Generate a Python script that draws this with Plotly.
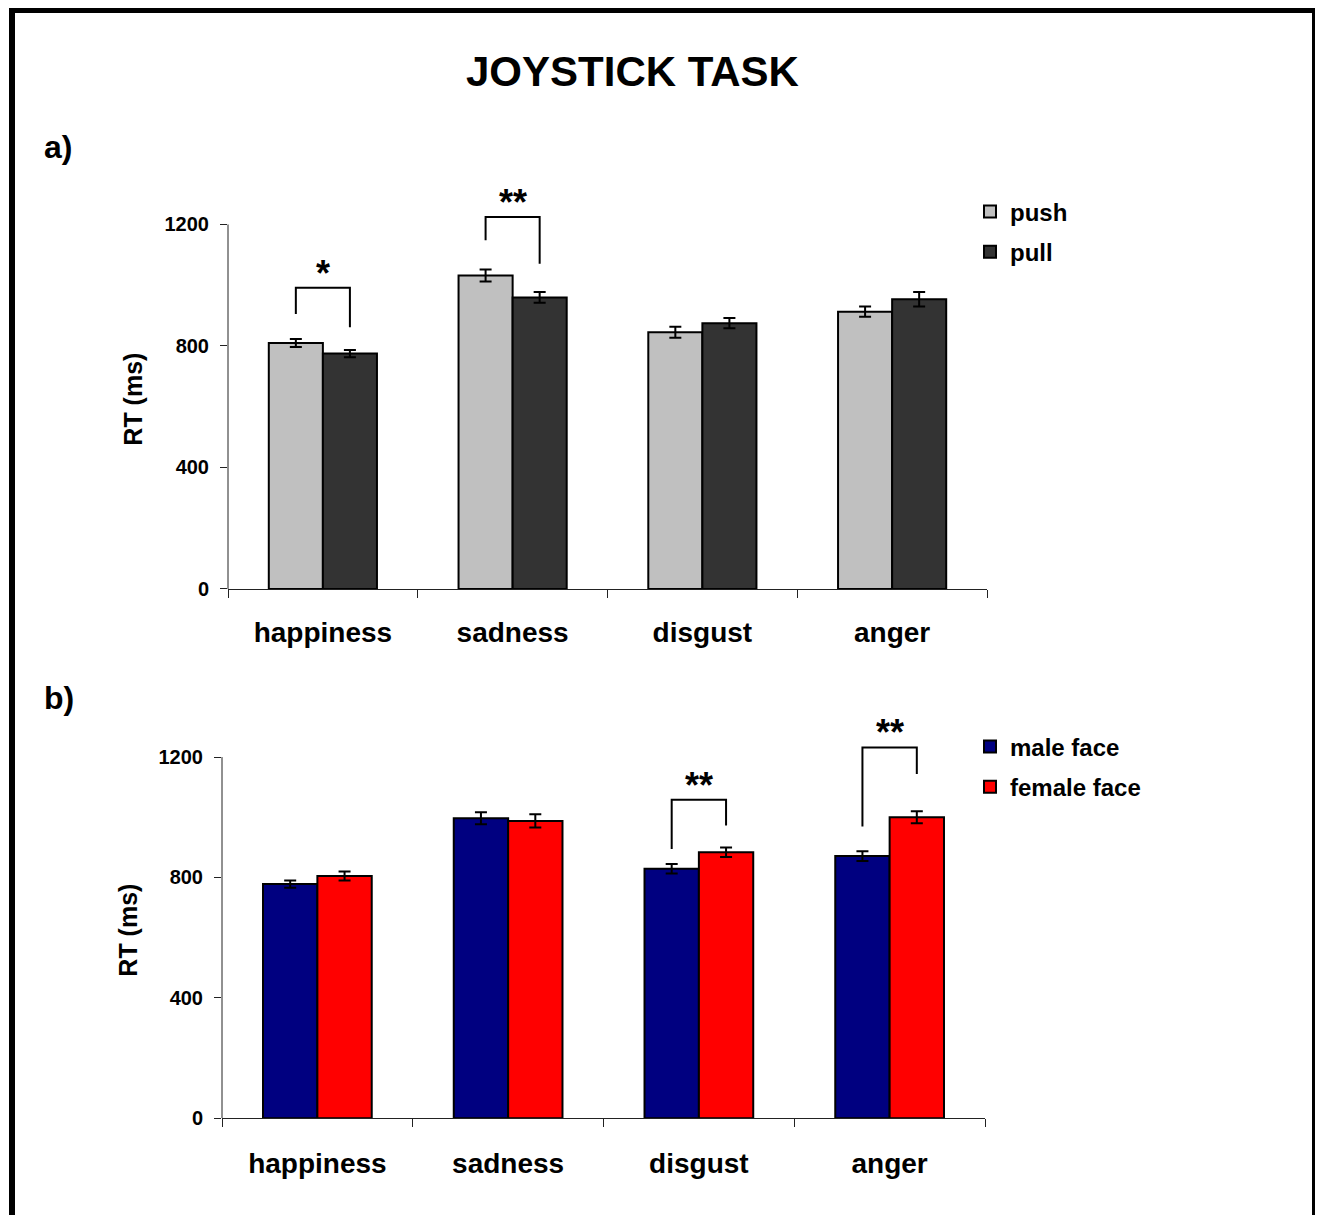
import plotly.graph_objects as go

# ---------------- data ----------------
categories = ["happiness", "sadness", "disgust", "anger"]

push = [810, 1032, 845, 913]
push_err = [13, 20, 18, 17]
pull = [775, 960, 875, 954]
pull_err = [12, 18, 17, 24]

male = [778, 997, 829, 871]
male_err = [12, 20, 16, 16]
female = [805, 988, 884, 1000]
female_err = [15, 22, 16, 20]

y_ticks = [0, 400, 800, 1200]

# significance brackets: category, left leg bottom, right leg bottom, top, label
brackets_a = [("happiness", 905, 862, 992, "*"), ("sadness", 1148, 1071, 1225, "**")]
brackets_b = [("disgust", 895, 973, 1058, "**"), ("anger", 969, 1144, 1232, "**")]

# ---------------- style ----------------
FONT = "Liberation Sans, Arial, sans-serif"
BARGAP = 0.43
PAGE_OFF = 8          # default body margin of the html page
W, H = 1323 - PAGE_OFF, 1215 - PAGE_OFF
VSCALE = 1.0097       # small vertical correction measured on the render


def px(x):
    return (x - PAGE_OFF) / W


def py_raw(y):
    return 1 - (y - PAGE_OFF) / H


def py(y):
    return py_raw(72 + (y - 72) * VSCALE)


fig = go.Figure()


def add_pair(name1, v1, e1, c1, name2, v2, e2, c2, xa, ya, legend):
    for nm, v, e, c in [(name1, v1, e1, c1), (name2, v2, e2, c2)]:
        fig.add_trace(go.Bar(
            x=categories, y=v, name=nm, xaxis=xa, yaxis=ya,
            marker=dict(color=c, line=dict(color="black", width=2)),
            error_y=dict(type="data", array=e, color="black", thickness=2, width=6),
            legend=legend, legendgroup=nm,
        ))


add_pair("push", push, push_err, "#C0C0C0", "pull", pull, pull_err, "#333333", "x", "y", "legend")
add_pair("male face", male, male_err, "#000080", "female face", female, female_err, "#FF0000", "x2", "y2", "legend2")

# ---------------- axes ----------------
ax_common = dict(
    type="category", categoryorder="array", categoryarray=categories,
    showline=True, linecolor="#222222", linewidth=1,
    ticks="outside", tickson="boundaries", ticklen=8, tickcolor="#222222",
    tickfont=dict(family=FONT, size=28, color="black", weight="bold"),
    showgrid=False, zeroline=False,
)
ay_common = dict(
    range=[0, 1250], tickmode="array", tickvals=y_ticks,
    showline=False, ticks="outside", ticklen=7, tickcolor="#222222",
    tickfont=dict(family=FONT, size=20, color="black", weight="bold"),
    ticklabelstandoff=7, showgrid=False, zeroline=False,
)
title_font = dict(family=FONT, size=25, color="black", weight="bold")

fig.update_layout(
    xaxis=dict(domain=[px(228), px(987)], anchor="y", ticklabelstandoff=18, **ax_common),
    yaxis=dict(domain=[py(589.3), py(209.8)], anchor="x",
               title=dict(text="RT (ms)", font=title_font, standoff=14), **ay_common),
    xaxis2=dict(domain=[px(222), px(985)], anchor="y2", ticklabelstandoff=20, **ax_common),
    yaxis2=dict(domain=[py(1118.3), py(742.3)], anchor="x2",
                title=dict(text="RT (ms)", font=title_font, standoff=13), **ay_common),
)

# y axis lines (from 0 to the top tick only)
for xr, yr in [("x domain", "y"), ("x2 domain", "y2")]:
    fig.add_shape(type="line", xref=xr, yref=yr, x0=0, x1=0, y0=0, y1=y_ticks[-1],
                  line=dict(color="#222222", width=1))

# ---------------- brackets ----------------
half = (1 - BARGAP) / 4
for brs, xr, yr in [(brackets_a, "x", "y"), (brackets_b, "x2", "y2")]:
    for cat, yl, yrr, top, lab in brs:
        i = categories.index(cat)
        xl, xrr = i - half, i + half
        fig.add_shape(type="path", xref=xr, yref=yr,
                      path=f"M {xl},{yl} L {xl},{top} L {xrr},{top} L {xrr},{yrr}",
                      line=dict(color="black", width=2))
        fig.add_annotation(x=i, y=top, xref=xr, yref=yr, text=lab, showarrow=False,
                           yanchor="bottom", yshift=-8,
                           font=dict(family=FONT, size=36, color="black", weight="bold"))

# ---------------- texts ----------------
fig.add_annotation(x=px(632), y=py(72), xref="paper", yref="paper", text="JOYSTICK TASK",
                   showarrow=False, xanchor="center", yanchor="middle",
                   font=dict(family=FONT, size=42, color="black", weight="bold"))
fig.add_annotation(x=px(42), y=py(148), xref="paper", yref="paper", text="a)",
                   showarrow=False, xanchor="left", yanchor="middle",
                   font=dict(family=FONT, size=32, color="black", weight="bold"))
fig.add_annotation(x=px(42), y=py(698), xref="paper", yref="paper", text="b)",
                   showarrow=False, xanchor="left", yanchor="middle",
                   font=dict(family=FONT, size=32, color="black", weight="bold"))

# outer frame (bottom edge outside the picture)
fig.add_shape(type="rect", xref="paper", yref="paper", x0=px(12), x1=px(1315), y0=-0.05, y1=py_raw(10),
              line=dict(color="black", width=6))

legend_style = dict(
    xanchor="left", yanchor="top", bgcolor="rgba(0,0,0,0)", tracegroupgap=6,
    font=dict(family=FONT, size=24, color="black", weight="bold"),
    itemclick=False, itemdoubleclick=False,
)
fig.update_layout(
    width=W, height=H,
    margin=dict(l=0, r=0, t=0, b=0),
    paper_bgcolor="white", plot_bgcolor="white",
    barmode="group", bargap=BARGAP, bargroupgap=0,
    showlegend=True,
    legend=dict(x=px(970), y=py_raw(191), **legend_style),
    legend2=dict(x=px(970), y=py_raw(731), **legend_style),
)

fig.write_html("out.html")
